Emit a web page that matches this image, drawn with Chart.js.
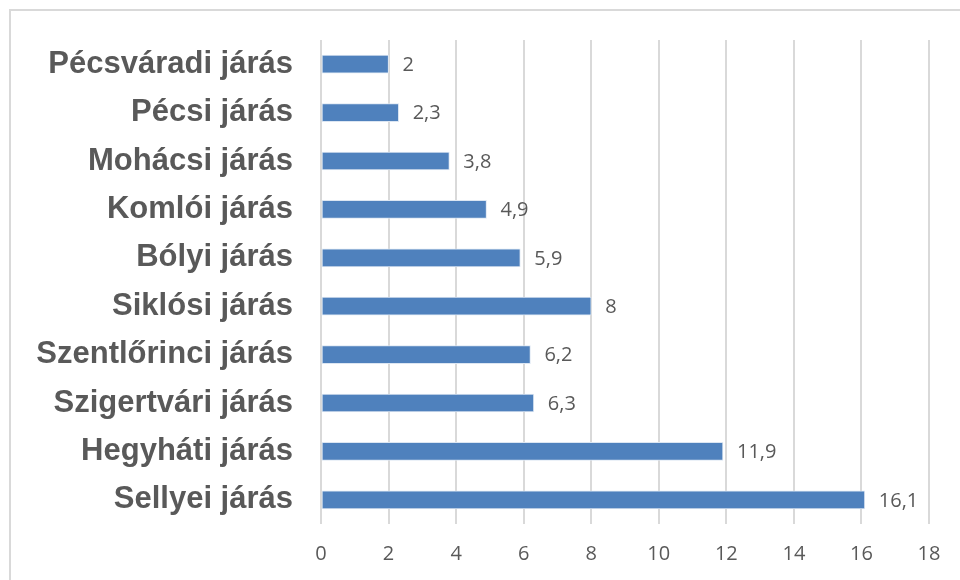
<!DOCTYPE html>
<html>
<head>
<meta charset="utf-8">
<script src="https://cdn.jsdelivr.net/npm/chart.js@4"></script>
<style>
  html, body { margin: 0; padding: 0; background: #fff; }
  #wrap { position: relative; width: 960px; height: 580px; overflow: hidden; }
  #frame { position: absolute; left: 9px; top: 9px; width: 1000px; height: 1000px; border: 2px solid #d9d9d9; box-sizing: border-box; }
  #chart { position: absolute; left: 0; top: 0; }
</style>
</head>
<body>
<div id="wrap">
  <div id="frame"></div>
  <canvas id="chart" width="960" height="580"></canvas>
</div>
<script>
// járások (top to bottom)
const categories = [
  'Pécsváradi járás', 'Pécsi járás', 'Mohácsi járás', 'Komlói járás', 'Bólyi járás',
  'Siklósi járás', 'Szentlőrinci járás', 'Szigertvári járás', 'Hegyháti járás', 'Sellyei járás'
];
const values = [2, 2.3, 3.8, 4.9, 5.9, 8, 6.2, 6.3, 11.9, 16.1];
const xTicks = [0, 2, 4, 6, 8, 10, 12, 14, 16, 18];

const fmtNum = v => String(v).replace('.', ',');

// simple value labels at the end of each bar
const barLabels = {
  id: 'barLabels',
  afterDatasetsDraw(chart) {
    const ctx = chart.ctx;
    const meta = chart.getDatasetMeta(0);
    ctx.save();
    ctx.font = '20px "Open Sans", sans-serif';
    ctx.fillStyle = '#595959';
    ctx.textAlign = 'left';
    ctx.textBaseline = 'middle';
    meta.data.forEach((bar, i) => {
      ctx.fillText(fmtNum(values[i]), bar.x + 14, bar.y + 1);
    });
    ctx.restore();
  }
};

new Chart(document.getElementById('chart'), {
  type: 'bar',
  plugins: [barLabels],
  data: {
    labels: categories,
    datasets: [{
      data: values,
      backgroundColor: '#4f81bd',
      borderColor: '#dce6f2',
      borderWidth: 1,
      borderSkipped: false,
      barThickness: 18
    }]
  },
  options: {
    indexAxis: 'y',
    responsive: false,
    animation: false,
    layout: { padding: { top: 40, right: 31, left: 0, bottom: 0 } },
    plugins: { legend: { display: false }, tooltip: { enabled: false } },
    scales: {
      x: {
        min: 0, max: 18,
        afterBuildTicks: s => { s.ticks = xTicks.map(v => ({ value: v })); },
        afterFit: s => { s.height = 56; s.paddingLeft = 0; s.paddingRight = 0; },
        border: { display: false },
        grid: { color: '#d9d9d9', lineWidth: 2, drawTicks: false },
        ticks: { padding: 18, color: '#595959', font: { family: '"Open Sans", sans-serif', size: 20 } }
      },
      y: {
        afterFit: s => { s.width = 321; s.paddingTop = 0; s.paddingBottom = 0; },
        border: { display: false },
        grid: { display: false, drawTicks: false },
        ticks: { padding: 28, color: '#595959', font: { family: '"Liberation Sans", Arial, sans-serif', size: 31, weight: 'bold' } }
      }
    }
  }
});
</script>
</body>
</html>
